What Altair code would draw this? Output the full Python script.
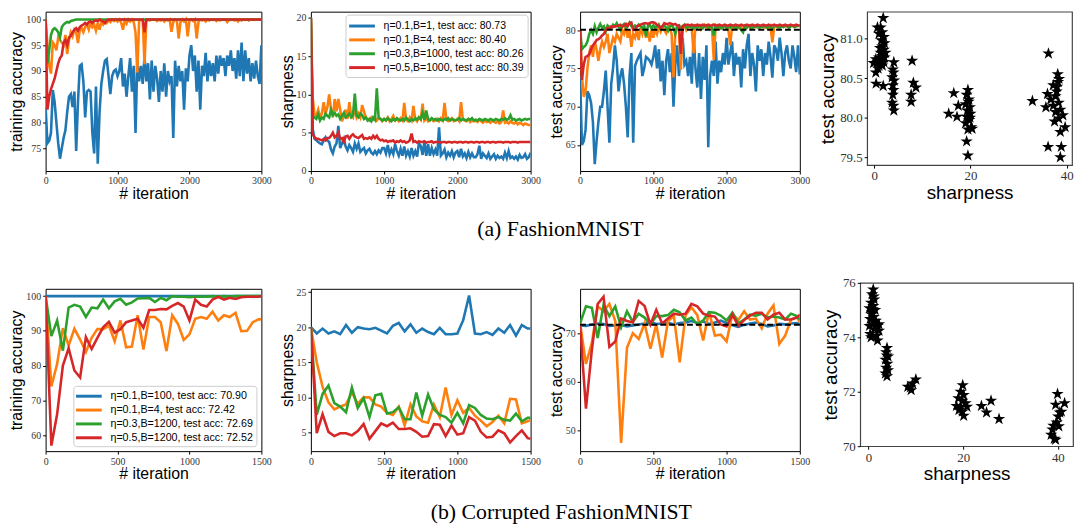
import altair as alt
import pandas as pd

COLORS = ["#1f77b4", "#ff7f0e", "#2ca02c", "#d62728"]
STAR = "M0,-1L0.2245,-0.309L0.951,-0.309L0.363,0.118L0.588,0.809L0,0.382L-0.588,0.809L-0.363,0.118L-0.951,-0.309L-0.2245,-0.309Z"
LEGEND_LINE = "M-1.2,0H2.8"

# ---------------- (a) FashionMNIST ----------------
ITER1 = list(range(0, 3001, 25))
LAB1 = ["η=0.1,B=1, test acc: 80.73", "η=0.1,B=4, test acc: 80.40",
        "η=0.3,B=1000, test acc: 80.26", "η=0.5,B=1000, test acc: 80.39"]

TRAIN1_B = [83, 76, 76.5, 78, 86.3, 84, 80, 76, 73, 75,
            77, 78.5, 82, 85, 85.5, 83, 86, 74.5, 84, 91,
            91.3, 88, 81, 86, 86.3, 86, 78, 74, 87, 72,
            82, 87.5, 90, 92, 92.3, 89, 85.5, 89, 90, 90.3,
            89, 90, 92.5, 87, 89.5, 85, 89, 92.5, 86, 91,
            78, 92, 88, 91, 87.5, 93, 88, 91.5, 84.5, 92,
            86, 91, 88.5, 84, 90, 86, 91.5, 85, 90, 88,
            89, 77, 92, 87, 91, 88, 90, 82.5, 90.5, 88,
            93, 95, 90, 93, 86, 92, 82.5, 91, 89, 93.5,
            88, 92, 89, 91.5, 88, 93, 89.5, 93, 91, 92.5,
            89, 93, 91, 94, 90, 92.5, 88.5, 94, 89, 95.5,
            88, 94, 89.5, 92.5, 88, 91.5, 88.5, 92, 89, 87.5,
            95]
TRAIN1_O = [100, 95, 91, 89.5, 95.5, 95, 94, 96.5, 96, 95.5,
            95, 97, 93.3, 96, 97.5, 96.7, 98, 97.5, 95.4, 98,
            98.3, 97.5, 98.5, 99, 98, 99.3, 98.5, 99, 97.8, 99.3,
            98, 99.5, 99, 99.7, 99.3, 99.8, 99.5, 100, 99.7, 100,
            99.6, 100, 99.4, 98, 99.8, 99.2, 100, 99.6, 100, 99.5,
            97.5, 89.7, 99.7, 99.9, 100, 91.3, 99.5, 100, 99.8, 100,
            99.9, 100, 99.7, 100, 99.8, 100, 99.6, 100, 99.8, 100,
            97.6, 99.5, 100, 99.8, 96.3, 99.5, 100, 99.6, 100, 96.7,
            99.8, 100, 99.7, 100, 96.3, 99.5, 100, 99.8, 100, 99.6,
            100, 99.8, 100, 99.9, 100, 99.7, 100, 99.8, 100, 99.9,
            100, 99.5, 100, 99.9, 100, 99.8, 100, 99.6, 100, 99.8,
            100, 99.9, 100, 99.8, 100, 100, 99.9, 100, 100, 100,
            100]
TRAIN1_G = [100, 91.5, 94, 97, 98, 98.3, 98, 97.5, 96.5, 98.5,
            99, 99.3, 99.5, 99.4, 99.7, 99.8, 99.9, 100, 100, 100,
            100, 100, 100, 100, 100, 100, 100, 100, 100, 100,
            100, 100, 100, 100, 100, 100, 100, 100, 100, 100,
            100, 100, 100, 100, 100, 100, 100, 100, 100, 100,
            100, 100, 100, 100, 100, 100, 100, 100, 100, 100,
            100, 100, 100, 100, 100, 100, 100, 100, 100, 100,
            100, 100, 100, 100, 100, 100, 100, 100, 100, 100,
            100, 100, 100, 100, 100, 100, 100, 100, 100, 100,
            100, 100, 100, 100, 100, 100, 100, 100, 100, 100,
            100, 100, 100, 100, 100, 100, 100, 100, 100, 100,
            100, 100, 100, 100, 100, 100, 100, 100, 100, 100,
            100]
TRAIN1_R = [100, 82.5, 85, 86.5, 87.5, 88.5, 90, 91.5, 92.5, 93,
            95.5, 96, 95, 96.5, 96.8, 97.5, 98, 98.3, 97.8, 98.5,
            98.8, 99, 99.3, 99, 99.5, 99.6, 99.3, 99.7, 99.8, 99.6,
            100, 99.8, 99.6, 99.3, 99.8, 100, 99.9, 100, 100, 100,
            100, 100, 100, 100, 100, 100, 100, 100, 100, 100,
            100, 100, 100, 100, 100, 97.5, 100, 100, 100, 100,
            100, 100, 100, 100, 100, 100, 100, 100, 100, 100,
            100, 100, 100, 100, 100, 100, 100, 100, 100, 100,
            100, 100, 100, 100, 100, 100, 100, 100, 100, 100,
            100, 100, 100, 100, 100, 100, 100, 100, 100, 100,
            100, 100, 100, 100, 100, 100, 100, 100, 100, 100,
            100, 100, 100, 100, 100, 100, 100, 100, 100, 100,
            100]

SHARP1_B = [20, 5.5, 4.2, 4.0, 3.8, 3.6, 3.5, 4.0, 4.4, 4.0,
            3.8, 2.8, 2.3, 3.2, 3.6, 5.9, 3.0, 3.6, 4.2, 3.2,
            2.7, 3.4, 3.0, 2.5, 3.6, 2.9, 3.6, 2.5, 2.8, 3.0,
            2.3, 2.7, 2.9, 2.4, 2.2, 2.6, 2.2, 2.7, 2.4, 3.0,
            3.0, 2.3, 3.4, 2.2, 2.8, 2.2, 3.5, 2.6, 2.0, 2.9,
            2.0, 3.2, 2.0, 2.6, 1.9, 3.0, 2.0, 2.6, 1.9, 3.6,
            3.3, 2.1, 3.8, 2.0, 3.5, 2.0, 3.0, 2.2, 2.8, 2.0,
            5.7, 2.0, 2.3, 2.8, 1.8, 2.4, 2.0, 2.6, 1.8, 2.4,
            2.6, 1.8, 2.9, 1.9, 2.3, 1.7, 2.5, 1.8, 2.3, 1.8,
            1.8, 2.2, 3.3, 1.6, 2.3, 2.0, 1.7, 2.3, 1.6, 1.9,
            2.2, 1.6, 2.0, 1.7, 1.9, 1.6, 2.4, 1.7, 2.6, 1.7,
            1.9, 1.6, 1.9, 1.5, 2.1, 1.7, 1.8, 2.2, 1.6, 1.8,
            2.4]
SHARP1_O = [20, 9.5, 7.4, 7.2, 8.0, 7.0, 7.5, 9.0, 7.5, 8.3,
            10.0, 8.0, 7.0, 9.4, 7.8, 9.4, 8.0, 6.5, 7.2, 8.0,
            6.8, 9.0, 7.3, 7.0, 8.4, 7.0, 7.5, 7.0, 8.6, 7.8,
            7.0, 6.8, 6.6, 7.0, 6.7, 7.0, 6.6, 6.9, 6.8, 6.5,
            6.8, 6.6, 7.0, 6.5, 6.8, 7.2, 6.6, 6.8, 6.5, 6.9,
            6.6, 8.9, 6.7, 6.5, 7.0, 6.6, 8.5, 6.8, 6.5, 7.0,
            6.7, 8.8, 6.6, 6.9, 6.5, 6.7, 6.8, 6.5, 6.6, 6.8,
            6.5, 6.9, 6.6, 8.9, 6.7, 6.5, 6.6, 6.9, 6.5, 6.6,
            6.8, 6.5, 9.0, 6.7, 6.6, 6.5, 6.8, 6.4, 6.6, 6.5,
            6.6, 6.4, 6.7, 6.5, 6.3, 6.6, 6.4, 6.5, 6.3, 6.6,
            6.4, 6.3, 6.5, 6.2, 6.4, 7.9, 6.3, 6.4, 6.2, 6.5,
            6.3, 6.2, 6.4, 6.1, 6.3, 6.2, 6.0, 6.2, 6.1, 6.0,
            6.0]
SHARP1_G = [20, 7.2, 7.0, 6.8, 7.4, 6.6, 7.0, 6.8, 7.5, 7.2,
            7.0, 8.0, 7.3, 7.6, 7.2, 7.4, 6.8, 7.2, 7.6, 7.0,
            7.2, 7.5, 7.0, 7.3, 10.1, 7.2, 7.0, 7.5, 7.3, 6.8,
            7.0, 6.6, 6.8, 6.5, 7.0, 6.7, 10.8, 7.0, 6.8, 6.6,
            6.8, 6.6, 6.9, 6.7, 6.5, 6.8, 6.6, 6.9, 6.7, 6.6,
            6.8, 6.6, 7.0, 6.7, 6.5, 6.8, 6.6, 6.9, 6.7, 7.0,
            6.8, 7.6, 6.7, 7.9, 6.8, 6.6, 6.9, 6.7, 6.8, 6.6,
            6.8, 6.7, 6.6, 6.8, 6.7, 6.9, 6.6, 6.8, 6.7, 6.6,
            6.7, 6.9, 6.6, 6.8, 6.7, 6.6, 6.8, 6.7, 6.9, 6.6,
            6.7, 6.6, 6.8, 6.7, 6.6, 6.8, 6.7, 6.6, 6.8, 6.7,
            6.6, 6.8, 6.7, 6.6, 6.8, 6.7, 6.9, 6.7, 6.8, 7.3,
            6.7, 6.8, 6.6, 6.7, 6.8, 6.6, 6.7, 6.8, 6.7, 6.8,
            6.8]
SHARP1_R = [20, 4.8, 4.4, 4.2, 4.2, 4.1, 4.0, 4.2, 4.0, 4.3,
            4.3, 4.6, 5.0, 4.4, 4.6, 5.0, 4.2, 4.3, 3.8, 4.5,
            4.6, 4.2, 4.6, 4.8, 4.5, 4.4, 4.3, 4.5, 4.7, 4.2,
            4.3, 4.2, 4.4, 4.2, 4.6, 4.3, 4.6, 4.2, 4.0, 4.1,
            3.9, 4.0, 3.8, 3.9, 3.9, 4.0, 3.7, 3.9, 3.8, 4.0,
            3.8, 3.9, 3.7, 3.8, 4.0, 4.9, 3.8, 3.9, 3.7, 3.9,
            3.8, 3.8, 3.9, 3.7, 3.8, 3.8, 3.9, 3.7, 3.8, 3.8,
            3.8, 3.7, 3.8, 3.8, 3.7, 3.8, 3.8, 3.7, 3.8, 3.8,
            3.7, 3.8, 3.8, 3.7, 3.8, 3.8, 3.7, 3.8, 3.8, 3.7,
            3.8, 3.8, 3.7, 3.8, 3.8, 3.7, 3.8, 3.8, 3.7, 3.8,
            3.8, 3.7, 3.8, 3.8, 3.8, 3.7, 3.8, 3.8, 3.8, 3.7,
            3.8, 3.8, 3.8, 3.7, 3.8, 3.8, 3.8, 3.8, 3.8, 3.8,
            3.8]

TEST1_B = [74, 65, 65.5, 67, 72, 71.5, 70.5, 68, 62.5, 65.5,
           68, 70, 70, 72, 74.7, 70, 65.3, 73, 75, 78,
           76, 72, 74, 75, 73, 70, 66, 74, 77, 65.3,
           75.3, 76, 76.5, 77, 74, 75, 76.5, 76.3, 76, 75.5,
           76.5, 78, 75, 77.5, 73.3, 76, 71.5, 76, 77.5, 74.5,
           77, 70, 75.5, 78, 74, 77, 79, 75.5, 76, 74,
           76.5, 73, 79.3, 75, 72.5, 77, 71, 76.5, 73.5, 78,
           64.7, 74, 76, 74, 78.5, 73, 76, 74.5, 77, 75.5,
           79, 75.5, 77, 78.5, 74, 77, 75.5, 76.5, 72.5, 77.5,
           75, 78, 79.5, 74, 77, 75.5, 72, 78, 76, 77.5,
           74, 77, 75.5, 78.5, 76.5, 73.8, 78, 77.5, 76, 79,
           77, 74, 77, 78, 76, 75, 78, 76.5, 74.5, 78,
           74.2]
TEST1_O = [80, 74, 71.3, 72, 75, 77, 78, 76.5, 78.5, 77.5,
           76, 77.5, 78.5, 77.8, 78.5, 79.5, 77, 78, 79, 78.5,
           79.5, 79, 78.5, 80, 79.5, 80.5, 79, 80, 77.8, 79.5,
           79, 80, 78.7, 80.3, 79.5, 80.4, 79, 79.8, 78.5, 80,
           79, 80.2, 79.5, 80.5, 79.8, 80.4, 80, 79.6, 80.5, 80.2,
           79.5, 73.8, 79.8, 80.5, 80.2, 74.8, 80.3, 80.6, 80, 80.4,
           80.5, 80.2, 77, 80.5, 80.3, 80.6, 80.1, 80.5, 80.7, 80.3,
           80.6, 80.2, 80.5, 76.1, 80.4, 80.6, 80.2, 80.5, 80.3, 80.6,
           80.4, 80, 78, 80.5, 80.3, 80.6, 80.2, 80.5, 80.4, 80.2,
           80.5, 80.3, 80.6, 80.2, 80.5, 80.4, 80.6, 80.3, 80.5, 80.4,
           80.6, 80.3, 80.5, 80.2, 80.5, 78.4, 80.4, 80.6, 80.3, 80.5,
           80.6, 80.4, 80.5, 80.6, 80.3, 80.5, 80.6, 80.4, 80.5, 80.6,
           80.6]
TEST1_G = [80, 77.5, 77.8, 78, 78.5, 79.5, 80, 79.5, 80.5, 79.7,
           80.3, 80.8, 80.3, 80.5, 79.8, 80.6, 80.4, 80.2, 80.7, 80.5,
           80.9, 80.4, 80, 80.6, 80.8, 80.3, 80.7, 81, 80.5, 80.3,
           80.6, 80.4, 80.7, 80.5, 80.2, 80.6, 79.2, 80.5, 80.7, 80.2,
           80.6, 80.3, 80.5, 80.7, 80.2, 80.5, 80.6, 80.3, 79.9, 80.5,
           80.6, 80.3, 79.5, 80.4, 80.6, 80.2, 80.5, 80.7, 80.3, 80.5,
           80.4, 80.6, 80.2, 80.5, 80.3, 80.6, 80.4, 80.2, 80.5, 80.6,
           80.3, 80.5, 80.4, 79.3, 80.6, 80.3, 80.5, 80.2, 80.4, 80.6,
           80.2, 80.5, 80.3, 80.6, 80.4, 80.2, 80.5, 80.3, 80, 79.7,
           80.5, 80.3, 80.6, 80.4, 80.2, 80.5, 80.4, 80.6, 80.3, 80.5,
           80.4, 80.6, 80.3, 80.5, 80.4, 80.2, 80.5, 80.6, 80.4, 80.3,
           80.5, 80.4, 80.6, 80.5, 80.3, 80.5, 80.6, 80.4, 80.5, 80.6,
           80.5]
TEST1_R = [80, 73.5, 75.5, 76.5, 76.6, 76.8, 77.5, 78, 78.3, 78.7,
           78.8, 79, 79.3, 79.5, 80, 80.3, 80.2, 80.5, 80.4, 80.5,
           80.5, 80.6, 80.7, 80.4, 80.6, 80.8, 80.5, 80.9, 81, 80,
           80, 80.5, 80.6, 80.7, 80.8, 80.9, 80.9, 80.8, 80.9, 81,
           81, 80.9, 80.7, 80.5, 80.3, 80.5, 80.9, 80.8, 80.8, 80.9,
           80.8, 80.7, 80.8, 80.6, 80.6, 76.9, 80.5, 80.6, 80.7, 80.7,
           80.6, 80.7, 80.6, 80.6, 80.7, 80.6, 80.6, 80.7, 80.6, 80.6,
           80.7, 80.6, 80.6, 80.7, 80.6, 80.6, 80.7, 80.6, 80.6, 80.7,
           80.6, 80.6, 80.7, 80.6, 80.6, 80.7, 80.6, 80.6, 80.7, 80.6,
           80.6, 80.7, 80.6, 80.6, 80.7, 80.6, 80.6, 80.7, 80.6, 80.6,
           80.7, 80.6, 80.6, 80.7, 80.6, 80.6, 80.7, 80.6, 80.6, 80.7,
           80.6, 80.6, 80.7, 80.6, 80.6, 80.7, 80.6, 80.6, 80.7, 80.6,
           80.6]
REF1 = 80.05

SCAT1_X = [1.87, 0.67, 1.33, 1.67, 1.0, 2.0, 1.47, 2.13, 1.67, 2.0,
           1.33, 2.33, 1.67, 1.0, 2.13, 0.33, 1.33, 0.67, 2.0, -0.13,
           1.0, 1.67, 0.33, 0.4, 1.87, 1.2, 0.8, 1.5,
           4.07, 3.87, 4.0, 3.73, 4.13, 3.87, 4.0, 3.87, 3.73, 4.0, 4.07,
           7.87, 8.13, 8.67, 7.67, 7.67,
           16.53, 15.47, 17.2, 17.47,
           19.47, 19.2, 19.67, 19.0, 19.87, 19.33, 20.0, 19.2, 19.73, 19.0,
           20.13, 19.47, 20.33, 19.2, 19.47, 19.6, 19.9,
           32.87,
           36.2, 38.13, 38.4, 37.2, 38.0, 36.0, 37.67, 36.67, 38.33, 37.2,
           35.67, 38.67, 37.67, 39.2, 38.33, 37.47, 39.67, 38.67, 36.13, 38.87,
           38.67, 37.9, 38.2]
SCAT1_Y = [81.26, 81.14, 81.14, 81.08, 81.06, 81.02, 80.98, 80.94, 80.9, 80.86,
           80.82, 80.82, 80.78, 80.76, 80.76, 80.74, 80.72, 80.7, 80.7, 80.69,
           80.66, 80.66, 80.57, 80.43, 80.4, 80.88, 80.62, 80.7,
           80.7, 80.61, 80.57, 80.51, 80.47, 80.41, 80.35, 80.29, 80.19, 80.15, 80.09,
           80.72, 80.44, 80.38, 80.29, 80.2,
           80.31, 80.05, 80.01, 80.15,
           80.35, 80.29, 80.23, 80.17, 80.13, 80.09, 80.05, 80.01, 79.97, 79.93,
           79.88, 79.85, 79.86, 79.7, 79.52, 80.2, 80.0,
           80.21,
           80.81, 80.55, 80.49, 80.41, 80.39, 80.3, 80.27, 80.23, 80.19, 80.15,
           80.13, 80.1, 80.07, 80.03, 79.99, 79.95, 79.88, 79.82, 79.63, 79.63,
           79.5, 80.33, 80.45]

# ---------------- (b) Corrupted FashionMNIST ----------------
ITER2 = list(range(0, 1481, 40)) + [1500]
LAB2 = ["η=0.1,B=100, test acc: 70.90", "η=0.1,B=4, test acc: 72.42",
        "η=0.3,B=1200, test acc: 72.69", "η=0.5,B=1200, test acc: 72.52"]

TRAIN2_B = [100] * 39
TRAIN2_O = [100, 74, 80.5, 90.8, 85.8, 90.6, 87.5, 83.9, 88, 90.5,
            90.5, 91.5, 87, 93, 85.3, 85.5, 94.5, 84.6, 94, 94,
            92.5, 84.2, 94.5, 92, 87.4, 89, 93.5, 94, 93.5, 95.5,
            93, 94.5, 94, 95.2, 89.9, 90, 92.5, 93.3, 93.3]
TRAIN2_G = [100, 88.5, 93, 84.3, 96.7, 97.5, 97, 94, 96.7, 96.5,
            99, 96.5, 98.5, 99.2, 97.5, 98.2, 99.3, 99.4, 99.5, 98.3,
            99.5, 98.8, 100, 99.8, 99.8, 99.7, 99.8, 99.9, 99.8, 100,
            99.9, 100, 99.9, 100, 100, 100, 100, 100, 100]
TRAIN2_R = [100, 57, 66, 80, 85, 78.6, 76.6, 88.2, 84.8, 88,
            91, 92.6, 89.5, 90.5, 92.5, 93, 93.5, 90.9, 96, 96,
            96.3, 96.2, 97.2, 98, 97, 93, 99, 97.5, 97, 99,
            99.8, 99, 99.5, 99.2, 99.7, 99.8, 99.8, 99.8, 100]

SHARP2_B = [20, 19.1, 19.8, 19.1, 19.4, 19, 20.3, 19.2, 20, 19.8,
            19.7, 19.9, 19.5, 19.1, 20.2, 20.6, 19.4, 20.4, 19.2, 19.8,
            19.3, 19, 19.9, 19, 19, 19.1, 21, 24.5, 19.1, 19,
            19.3, 18.9, 19.8, 19.2, 20.3, 18.8, 20.3, 19.8, 19.8]
SHARP2_O = [20, 15, 11.5, 9.3, 8.3, 8.7, 9.0, 10.7, 9.1, 10,
            10, 9, 8.7, 7.8, 7.5, 8.7, 6.0, 9, 7.3, 6.6,
            6.4, 9, 7.2, 11.4, 7.5, 9.6, 7.8, 8.5, 7.4, 6.7,
            5.9, 6.5, 7.4, 6.3, 9.8, 9.7, 6.3, 6.6, 6.8]
SHARP2_G = [20, 7.5, 10.5, 11.7, 9.2, 8.7, 7.9, 11.4, 8.5, 9.9,
            7.2, 10.3, 10.5, 7.7, 7.9, 8.6, 6.9, 6.9, 10.7, 7.4,
            10.4, 8.3, 7.5, 7.2, 6.4, 7.8, 6.3, 8.9, 8.5, 7.5,
            7.0, 6.9, 7.2, 6.8, 6.7, 7.7, 6.6, 7.1, 7.1]
SHARP2_R = [20, 4.9, 7.6, 5.1, 4.5, 4.9, 4.9, 4.6, 5.2, 6.2,
            4.1, 5.2, 6.3, 5.9, 6.4, 5.5, 5.5, 5.6, 5.1, 4.4,
            4.5, 6.2, 6.1, 4.5, 6, 4.7, 4.9, 7.2, 6.7, 5.1,
            4.3, 4.4, 5.3, 4.9, 3.6, 4.5, 5.3, 4.2, 4.1]

TEST2_B = [71.6, 71.5, 71.8, 72, 71.9, 71.5, 71.6, 71.7, 71.4, 71.6,
           71.8, 72, 72.3, 71.9, 72, 72.2, 71.8, 72.1, 72.2, 72.5,
           72.1, 72.4, 71.9, 72.2, 72.6, 72.1, 71.6, 71.3, 71.7, 72,
           72.2, 71.9, 71.4, 71.6, 71.9, 71.8, 72, 72.1, 71.8]
TEST2_O = [72, 63.7, 68, 75.5, 74.5, 76, 72.5, 47.5, 67, 70,
           68.8, 72, 66.8, 71.8, 65, 72.5, 73.5, 64, 73.7, 75.3,
           73.7, 68.5, 74.5, 69.5, 69.7, 68.3, 74, 72.7, 74.5, 72.8,
           73, 71, 74, 75.7, 67.8, 69.5, 72.8, 73.3, 72.3]
TEST2_G = [72, 75.5, 75.2, 69, 75.8, 73.5, 75.5, 71.2, 74.5, 72.3,
           74, 73.2, 71.8, 73.5, 73.5, 73.7, 74.8, 74.3, 72.6, 73.2,
           71.8, 72.6, 74.3, 74.2, 73.6, 72.6, 74.2, 72, 72.8, 73.8,
           73.6, 74, 73.2, 73.4, 73.2, 72.8, 74, 73.5, 72.8]
TEST2_R = [71.5, 54.5, 66.5, 76, 77.5, 67.2, 68.3, 73, 72.5, 72.2,
           76.6, 75.6, 71.8, 74.8, 72, 73, 74, 73.8, 74, 76,
           75.5, 74, 73.6, 73.4, 71.8, 71.4, 73.8, 71.5, 72.7, 73.6,
           74.2, 74.2, 72.8, 73.8, 74.2, 72.8, 72.8, 73.2, 73.8]
REF2 = 71.75

SCAT2_X = [1.0, 0.74, 1.2, 0.54, 1.0, 0.2, 1.4, 0.74, 1.08, 0.34,
           1.55, 0.88, 1.9, 1.2, 2.2, 0.34, 0.54, 1.7, 1.9, 2.2,
           0.2, 0.88, 1.1, 0.6,
           3.9, 3.72, 4.12, 3.58, 3.98, 3.72, 4.12, 3.58, 3.9, 3.85,
           8.3, 9.0, 10.0, 9.3, 8.85,
           19.9, 19.46, 20.1, 18.99, 19.8, 20.5, 18.58, 19.46, 20.8, 19.8,
           20.1, 19.1,
           23.85, 24.93, 25.88, 27.57,
           39.93, 39.53, 41.42, 40.4, 40.07, 40.74, 39.73, 39.05, 40.2, 38.58,
           39.26, 38.85, 39.53]
SCAT2_Y = [75.76, 75.58, 75.39, 75.27, 75.15, 75.07, 75.0, 74.91, 74.75, 74.67,
           74.61, 74.48, 74.42, 74.3, 74.24, 74.12, 74.0, 74.06, 73.88, 74.48,
           74.42, 75.03, 75.5, 74.85,
           73.61, 73.45, 73.3, 73.18, 73.03, 72.88, 72.79, 72.67, 72.57, 73.33,
           72.18, 72.06, 72.45, 72.3, 72.16,
           72.24, 72.0, 71.88, 71.76, 71.67, 71.58, 71.48, 71.43, 71.45, 71.27,
           71.12, 71.33,
           71.48, 71.24, 71.67, 71.0,
           71.92, 71.52, 71.58, 71.24, 71.09, 71.27, 70.87, 70.75, 70.73, 70.42,
           70.27, 70.61, 70.24]

CAPTION_A = "(a) FashionMNIST"
CAPTION_B = "(b)  Corrupted FashionMNIST"

NOFRAME = alt.ViewBackground(stroke="transparent")


def line_panel(iters, series, labels, ydom, yticks, xticks, ytitle, w, h,
               legend=None, ref=None):
    layers = []
    for lab, vals in zip(labels, series):
        df = pd.DataFrame({"t": iters, "v": vals, "s": [lab] * len(iters)})
        if legend is None:
            color = alt.Color("s:N", scale=alt.Scale(domain=labels, range=COLORS), legend=None)
        else:
            color = alt.Color("s:N", scale=alt.Scale(domain=labels, range=COLORS), legend=legend)
        layers.append(
            alt.Chart(df).mark_line(strokeWidth=2.6, clip=True).encode(
                x=alt.X("t:Q", scale=alt.Scale(domain=[0, iters[-1]], nice=False, zero=False),
                        axis=alt.Axis(values=xticks, format="d", title="# iteration",
                                      titlePadding=0)),
                y=alt.Y("v:Q", scale=alt.Scale(domain=ydom, nice=False, zero=False),
                        axis=alt.Axis(values=yticks, title=ytitle, titlePadding=1)),
                color=color,
            )
        )
    if ref is not None:
        layers.append(
            alt.Chart(pd.DataFrame({"r": [ref]})).mark_rule(
                color="black", strokeWidth=2, strokeDash=[6, 3]).encode(y="r:Q")
        )
    return alt.layer(*layers).properties(width=w, height=h)


def scatter_panel(xs, ys, xdom, ydom, yticks, yfmt, w, h):
    df = pd.DataFrame({"x": xs, "y": ys})
    return alt.Chart(df).mark_point(shape=STAR, filled=True, color="black", opacity=1,
                                    size=170, strokeWidth=0).encode(
        x=alt.X("x:Q", scale=alt.Scale(domain=xdom, nice=False, zero=False),
                axis=alt.Axis(values=[0, 20, 40], title="sharpness", labelFontSize=13,
                              titleFontSize=19, titlePadding=1)),
        y=alt.Y("y:Q", scale=alt.Scale(domain=ydom, nice=False, zero=False),
                axis=alt.Axis(values=yticks, format=yfmt, title="test accuracy",
                              labelFontSize=13, titleFontSize=19, titlePadding=2)),
    ).properties(width=w, height=h,
                 view=alt.ViewBackground(stroke="#444444", strokeWidth=1.2))


LEG1 = alt.Legend(orient="top-right", offset=3, title=None, symbolType=LEGEND_LINE,
                  symbolStrokeWidth=3, symbolSize=169, labelFont="Liberation Sans",
                  labelFontSize=10.6, labelColor="#000", fillColor="white",
                  strokeColor="#cccccc", cornerRadius=3, padding=3.5, rowPadding=-2,
                  labelOffset=19, labelLimit=300)
LEG2 = alt.Legend(orient="bottom-right", offset=5, title=None, symbolType=LEGEND_LINE,
                  symbolStrokeWidth=3, symbolSize=169, labelFont="Liberation Sans",
                  labelFontSize=10.8, labelColor="#000", fillColor="white",
                  strokeColor="#cccccc", cornerRadius=3, padding=2.5, rowPadding=-0.5,
                  labelOffset=19, labelLimit=300)

H1 = 161
p1a = line_panel(ITER1, [TRAIN1_B, TRAIN1_O, TRAIN1_G, TRAIN1_R], LAB1, [70.6, 101.5],
                 [75, 80, 85, 90, 95, 100], [0, 1000, 2000, 3000], "training accuracy", 218, H1)
p2a = line_panel(ITER1, [SHARP1_B, SHARP1_O, SHARP1_G, SHARP1_R], LAB1, [0, 20.8],
                 [0, 5, 10, 15, 20], [0, 1000, 2000, 3000], "sharpness", 222, H1, legend=LEG1)
p3a = line_panel(ITER1, [TEST1_B, TEST1_O, TEST1_G, TEST1_R], LAB1, [61.6, 82.4],
                 [65, 70, 75, 80], [0, 1000, 2000, 3000], "test accuracy", 222, H1, ref=REF1)
p4a = scatter_panel(SCAT1_X, SCAT1_Y, [-1.47, 41.1], [79.40, 81.34],
                    [79.5, 80.0, 80.5, 81.0], ".1f", 207, 155)

H2 = 164
p1b = line_panel(ITER2, [TRAIN2_B, TRAIN2_O, TRAIN2_G, TRAIN2_R], LAB2, [55.4, 102.1],
                 [60, 70, 80, 90, 100], [0, 500, 1000, 1500], "training accuracy", 218, H2,
                 legend=LEG2)
p2b = line_panel(ITER2, [SHARP2_B, SHARP2_O, SHARP2_G, SHARP2_R], LAB2, [2.35, 25.46],
                 [5, 10, 15, 20, 25], [0, 500, 1000, 1500], "sharpness", 222, H2)
p3b = line_panel(ITER2, [TEST2_B, TEST2_O, TEST2_G, TEST2_R], LAB2, [45.8, 79.1],
                 [50, 55, 60, 65, 70, 75], [0, 500, 1000, 1500], "test accuracy", 222, H2,
                 ref=REF2)
p4b = scatter_panel(SCAT2_X, SCAT2_Y, [-1.76, 43.2], [70, 76], [70, 72, 74, 76], "d", 215, 165)


def caption(text, w, h, x, y):
    return alt.Chart(pd.DataFrame({"c": [text]})).mark_text(
        font="Liberation Serif", fontSize=22, align="center", baseline="alphabetic",
        color="black").encode(text="c:N", x=alt.value(x), y=alt.value(y)).properties(
        width=w, height=h, view=NOFRAME)


def spacer(h):
    return alt.Chart(pd.DataFrame({"a": [0]})).mark_point(opacity=0, size=0).encode(
        x=alt.value(0), y=alt.value(0)).properties(width=10, height=h, view=NOFRAME)


row1 = alt.hconcat(
    alt.hconcat(p1a, p2a, p3a, spacing=6).resolve_scale(color="independent"),
    p4a, spacing=7).resolve_scale(color="independent")
row2 = alt.hconcat(
    alt.vconcat(spacer(16),
                alt.hconcat(p1b, p2b, p3b, spacing=6).resolve_scale(color="independent"),
                spacing=0),
    alt.vconcat(spacer(6), p4b, spacing=0),
    spacing=10).resolve_scale(color="independent")

chart = alt.vconcat(
    row1,
    caption(CAPTION_A, 1000, 63, 520, 32),
    row2,
    caption(CAPTION_B, 1000, 45, 521, 34),
    spacing=0,
).resolve_scale(color="independent").properties(
    padding={"left": 0, "top": 0, "right": 0, "bottom": 0}
).configure(background="white").configure_view(
    stroke="#000000", strokeWidth=1
).configure_axis(
    grid=False, domain=False, tickSize=3, tickColor="#000", tickWidth=1,
    labelFont="Liberation Serif", labelFontSize=10, labelColor="#333",
    labelPadding=2, labelFlush=False, titleFont="Liberation Sans", titleFontSize=16,
    titleFontWeight="normal", titleColor="#000",
)

chart.save("out.html", embed_options={"renderer": "svg", "actions": False})
